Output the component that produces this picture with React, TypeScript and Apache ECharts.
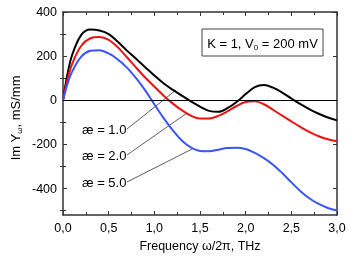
import React, { useEffect, useRef } from "react";
import * as echarts from "echarts";

const freq = [0, 0.05, 0.1, 0.2, 0.3, 0.4, 0.5, 0.6, 0.7, 0.8, 0.9, 1.0, 1.1, 1.2, 1.3, 1.4, 1.5, 1.6, 1.7, 1.8, 1.9, 2.0, 2.1, 2.2, 2.3, 2.4, 2.5, 2.6, 2.7, 2.8, 2.9, 3.0];
const ae1 = [0, 120, 205, 296, 321, 316, 300, 265, 225, 188, 150, 112, 77, 48, 21, -5, -29, -48, -52, -36, -8, 28, 60, 69, 57, 35, 8, -18, -41, -61, -78, -91];
const ae2 = [0, 95, 165, 247, 281, 287, 274, 240, 195, 148, 103, 62, 22, -14, -45, -70, -83, -83, -71, -50, -26, -8, -5, -18, -43, -70, -96, -121, -144, -163, -177, -186];
const ae5 = [0, 75, 130, 198, 224, 227, 212, 185, 148, 100, 45, -18, -80, -135, -182, -214, -230, -231, -224, -216, -215, -221, -238, -262, -292, -330, -372, -412, -445, -470, -488, -500];
const yMajor = [-400, -200, 0, 200, 400];
const yMinor = [-500, -300, -100, 100, 300];

const FONT = "'Liberation Sans', Arial, sans-serif";

export default function App() {
  const ref = useRef<HTMLDivElement>(null);
  useEffect(() => {
    if (!ref.current) return;
    const chart = echarts.init(ref.current, null, { renderer: "svg" });
    const axisLine = { show: true, onZero: false, lineStyle: { color: "#333", width: 1.5 } };
    const xBase = {
      type: "value" as const,
      min: 0,
      max: 3,
      interval: 0.5,
      axisLine,
      splitLine: { show: false },
      axisTick: { show: true, inside: true, length: 4, lineStyle: { color: "#333", width: 1 } },
      minorTick: { show: true, splitNumber: 2, length: 3, lineStyle: { color: "#333", width: 1 } },
      minorSplitLine: { show: false },
    };
    const yBase = {
      type: "value" as const,
      min: -520,
      max: 400,
      axisLine,
      splitLine: { show: false },
    };
    const mk = (name: string, vals: number[], color: string) => ({
      name,
      type: "line",
      xAxisIndex: 0,
      yAxisIndex: 0,
      data: freq.map((f, i) => [f, vals[i]]),
      smooth: 0.35,
      showSymbol: false,
      lineStyle: { color, width: 2 },
      z: 3,
    });
    chart.setOption({
      animation: false,
      grid: { left: 63, right: 17, top: 12, bottom: 45 },
      textStyle: { fontFamily: FONT },
      xAxis: [
        {
          ...xBase,
          position: "bottom",
          name: "Frequency ω/2π, THz",
          nameLocation: "middle",
          nameGap: 24,
          nameTextStyle: { fontSize: 12.5, color: "#000", fontFamily: FONT },
          axisLabel: {
            show: true,
            fontSize: 12.5,
            color: "#000",
            margin: 6,
            fontFamily: FONT,
            formatter: (v: number) => v.toFixed(1).replace(".", ","),
          },
        },
        { ...xBase, position: "top", axisLabel: { show: false } },
      ],
      yAxis: [
        {
          ...yBase,
          position: "left",
          axisTick: { show: true, inside: true, length: 4, customValues: yMajor, lineStyle: { color: "#333" } },
          axisLabel: { show: true, fontSize: 12.5, color: "#000", margin: 6, fontFamily: FONT, customValues: yMajor },
        },
        {
          ...yBase,
          position: "right",
          axisTick: { show: true, inside: true, length: 4, customValues: yMajor, lineStyle: { color: "#333" } },
          axisLabel: { show: false },
        },
        {
          ...yBase,
          position: "left",
          axisLine: { show: false },
          axisTick: { show: true, inside: true, length: 3, customValues: yMinor, lineStyle: { color: "#333" } },
          axisLabel: { show: false },
        },
        {
          ...yBase,
          position: "right",
          axisLine: { show: false },
          axisTick: { show: true, inside: true, length: 3, customValues: yMinor, lineStyle: { color: "#333" } },
          axisLabel: { show: false },
        },
      ],
      series: [
        {
          ...mk("æ = 1.0", ae1, "#000000"),
          markLine: {
            silent: true,
            symbol: "none",
            label: { show: false },
            lineStyle: { color: "#000", width: 1, type: "solid" },
            data: [{ yAxis: 0 }],
          },
        },
        mk("æ = 2.0", ae2, "#ee1111"),
        mk("æ = 5.0", ae5, "#3a55f5"),
      ],
      graphic: [
        {
          type: "rect",
          shape: { x: 202, y: 29, width: 121, height: 27 },
          style: { fill: "#fff", stroke: "#444", lineWidth: 1 },
          z: 10,
        },
        {
          type: "text",
          x: 262.5,
          y: 43,
          z: 11,
          style: {
            text: "{a|K = 1, V}{s|0}{a| = 200 mV}",
            align: "center",
            verticalAlign: "middle",
            rich: {
              a: { fontSize: 13, fontFamily: FONT, fill: "#000" },
              s: { fontSize: 8, fontFamily: FONT, fill: "#000", padding: [8, 0, 0, 0] },
            },
          },
        },
        {
          type: "text",
          x: 15,
          y: 118,
          rotation: Math.PI / 2,
          style: {
            text: "{a|Im Y}{s|ω}{a|, mS/mm}",
            align: "center",
            verticalAlign: "middle",
            rich: {
              a: { fontSize: 13, fontFamily: FONT, fill: "#000" },
              s: { fontSize: 8, fontFamily: FONT, fill: "#000", padding: [8, 0, 0, 0] },
            },
          },
        },
        { type: "text", x: 82, y: 129, style: { text: "æ = 1.0", fontSize: 13, fontFamily: FONT, fill: "#000", verticalAlign: "middle" } },
        { type: "text", x: 82, y: 155, style: { text: "æ = 2.0", fontSize: 13, fontFamily: FONT, fill: "#000", verticalAlign: "middle" } },
        { type: "text", x: 82, y: 182, style: { text: "æ = 5.0", fontSize: 13, fontFamily: FONT, fill: "#000", verticalAlign: "middle" } },
        { type: "line", shape: { x1: 127, y1: 129, x2: 176, y2: 90 }, style: { stroke: "#333", lineWidth: 0.8 } },
        { type: "line", shape: { x1: 127, y1: 155, x2: 187, y2: 113 }, style: { stroke: "#333", lineWidth: 0.8 } },
        { type: "line", shape: { x1: 127, y1: 182, x2: 192, y2: 149 }, style: { stroke: "#333", lineWidth: 0.8 } },
      ],
    });
    return () => chart.dispose();
  }, []);
  return <div ref={ref} style={{ position: "fixed", left: 0, top: 0, width: 354, height: 260 }} />;
}
